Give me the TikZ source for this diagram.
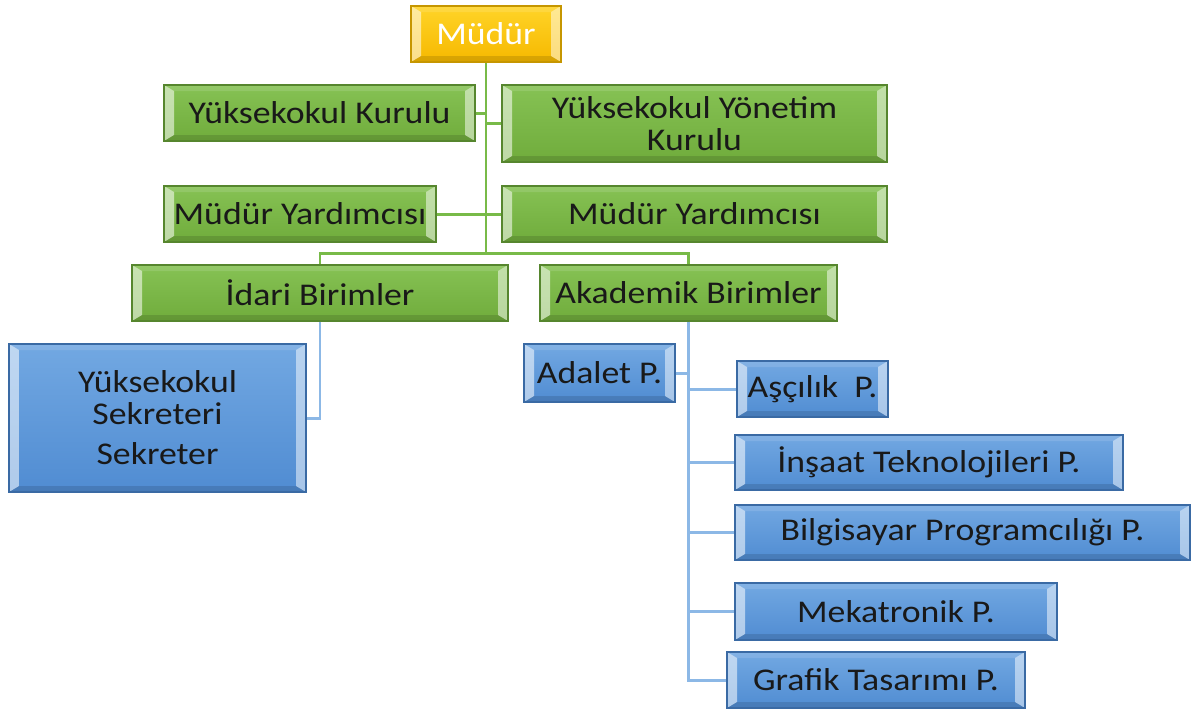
\documentclass[tikz,border=0pt]{standalone}
\usepackage{fontspec}
\setmainfont{Carlito}[FakeStretch=1.13]
\usetikzlibrary{calc}

\definecolor{gtop}{RGB}{134,194,84}
\definecolor{gbot}{RGB}{112,172,60}
\definecolor{gedge}{RGB}{86,134,46}
\definecolor{btop}{RGB}{114,168,226}
\definecolor{bbot}{RGB}{80,140,210}
\definecolor{bedge}{RGB}{58,106,164}
\definecolor{ytop}{RGB}{255,212,40}
\definecolor{ybot}{RGB}{246,184,0}
\definecolor{yedge}{RGB}{198,150,0}
\definecolor{gline}{RGB}{120,186,72}
\definecolor{bline}{RGB}{140,184,230}
\definecolor{txt}{RGB}{25,25,25}

\tikzset{
  bevel/.style={path picture={
    \fill[white,opacity=.55] (path picture bounding box.north west) -- (path picture bounding box.south west)
      -- ([shift={(.2,.12)}]path picture bounding box.south west) -- ([shift={(.2,-.12)}]path picture bounding box.north west) -- cycle;
    \fill[white,opacity=.5] (path picture bounding box.north east) -- (path picture bounding box.south east)
      -- ([shift={(-.2,.12)}]path picture bounding box.south east) -- ([shift={(-.2,-.12)}]path picture bounding box.north east) -- cycle;
    \fill[white,opacity=.12] (path picture bounding box.north west) -- (path picture bounding box.north east)
      -- ([shift={(-.2,-.12)}]path picture bounding box.north east) -- ([shift={(.2,-.12)}]path picture bounding box.north west) -- cycle;
    \fill[black,opacity=.12] (path picture bounding box.south west) -- (path picture bounding box.south east)
      -- ([shift={(-.2,.12)}]path picture bounding box.south east) -- ([shift={(.2,.12)}]path picture bounding box.south west) -- cycle;
  }},
  box/.style={rectangle, bevel, line width=.6pt, inner sep=0pt, align=center, text=txt,
    font=\fontsize{18}{18}\selectfont},
  greenbox/.style={box, draw=gedge, top color=gtop, bottom color=gbot},
  bluebox/.style={box, draw=bedge, top color=btop, bottom color=bbot},
  goldbox/.style={box, draw=yedge, top color=ytop, bottom color=ybot, text=white},
  gcon/.style={gline, line width=1.7pt},
  bcon/.style={bline, line width=1.7pt}
}

\begin{document}
\begin{tikzpicture}
\useasboundingbox (0,0) rectangle (23.84,-14.22);

% top of the chart
\node[goldbox, minimum width=3cm, minimum height=1.12cm] (mudur) at (9.72,-0.68) {Müdür};
\node[greenbox, minimum width=6.22cm, minimum height=1.12cm] (kurul) at (6.39,-2.26) {Yüksekokul Kurulu};
\node[greenbox, minimum width=7.7cm, minimum height=1.54cm] (yonetim) at (13.89,-2.47) {Yüksekokul Yönetim\\Kurulu};
\node[greenbox, minimum width=5.44cm, minimum height=1.12cm] (yard1) at (6.0,-4.28) {Müdür Yardımcısı};
\node[greenbox, minimum width=7.7cm, minimum height=1.12cm] (yard2) at (13.89,-4.28) {Müdür Yardımcısı};
\node[greenbox, minimum width=7.52cm, minimum height=1.12cm] (idari) at (6.4,-5.86) {İdari Birimler};
\node[greenbox, minimum width=5.94cm, minimum height=1.12cm] (akademik) at (13.77,-5.86) {Akademik Birimler};

% units
\node[bluebox, minimum width=5.94cm, minimum height=2.96cm] (sekreter) at (3.15,-8.36) {Yüksekokul\\Sekreteri\\[5pt]Sekreter};
\node[bluebox, minimum width=3.02cm, minimum height=1.16cm] (adalet) at (11.99,-7.46) {Adalet P.};
\node[bluebox, minimum width=3.02cm, minimum height=1.12cm] (asci) at (16.25,-7.78) {Aşçılık~ P.};
\node[bluebox, minimum width=7.76cm, minimum height=1.1cm] (insaat) at (18.58,-9.25) {İnşaat Teknolojileri P.};
\node[bluebox, minimum width=9.1cm, minimum height=1.1cm] (bilgi) at (19.25,-10.65) {Bilgisayar Programcılığı P.};
\node[bluebox, minimum width=6.44cm, minimum height=1.14cm] (meka) at (17.92,-12.23) {Mekatronik P.};
\node[bluebox, minimum width=5.96cm, minimum height=1.12cm] (grafik) at (17.52,-13.6) {Grafik Tasarımı P.};

% green connectors
\coordinate (split) at (9.72,-5.06);
\draw[gcon] (mudur) -- (split);
\draw[gcon] (split) -| (idari);
\draw[gcon] (split) -| (akademik);
\draw[gcon] (kurul) -- (kurul -| mudur);
\draw[gcon] (yonetim) -- (yonetim -| mudur);
\draw[gcon] (yard1) -- (yard2);

% blue connectors
\draw[bcon] (idari) |- (sekreter);
\draw[bcon] (akademik) |- (grafik);
\draw[bcon] (adalet) -- (adalet -| akademik);
\foreach \p in {asci, insaat, bilgi, meka}
\draw[bcon] (akademik.south |- \p) -- (\p);

\end{tikzpicture}
\end{document}
